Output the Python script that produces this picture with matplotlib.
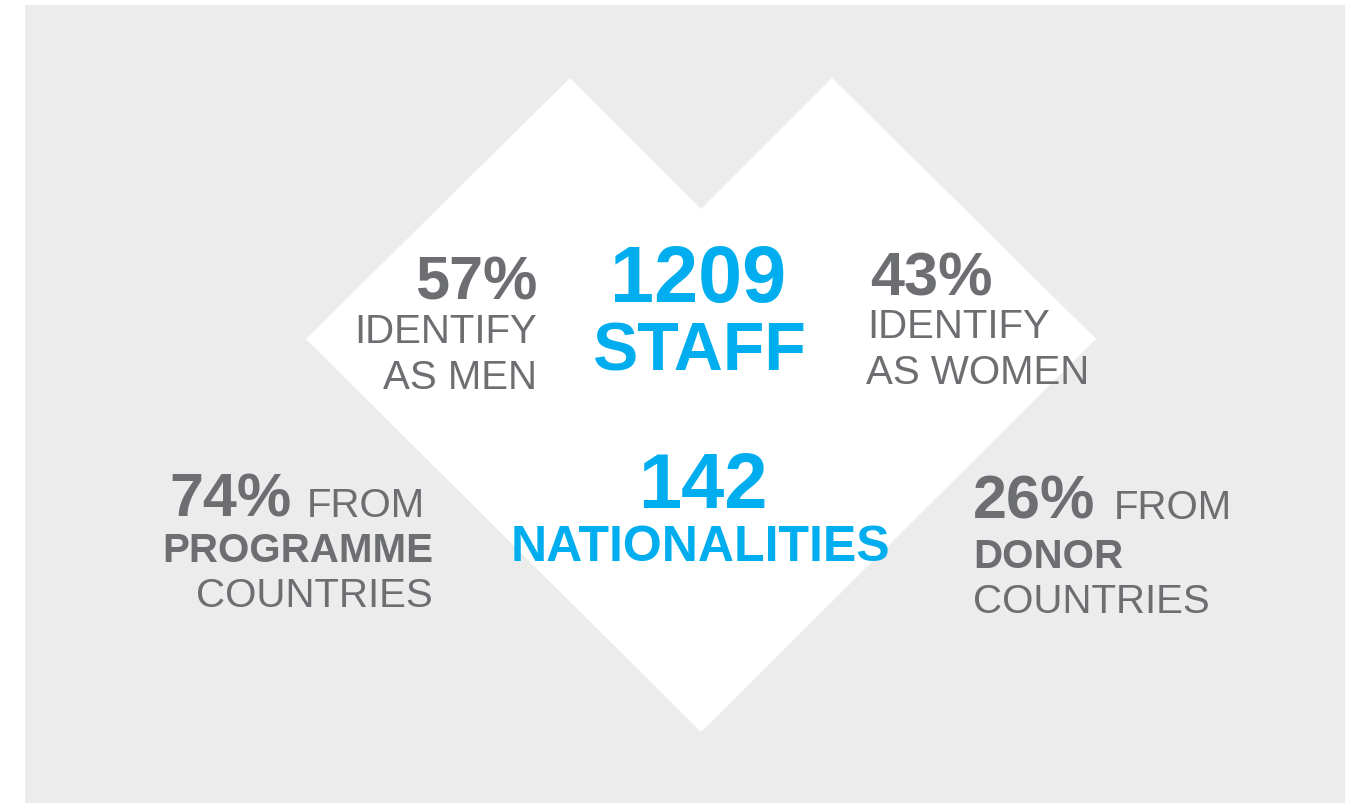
import matplotlib.pyplot as plt
from matplotlib.patches import Rectangle, Polygon

# 数据
staff_total = 1209
nationalities = 142
gender_labels = ['MEN', 'WOMEN']
gender_pct = [57, 43]
origin_labels = ['PROGRAMME', 'DONOR']
origin_pct = [74, 26]

GREY = '#6d6e71'
BLUE = '#00aeef'
BG = '#ececec'
SMALL = 29

plt.rcParams['font.family'] = ['Liberation Sans', 'DejaVu Sans']

W, H = 1362, 804
fig = plt.figure(figsize=(W / 100, H / 100), dpi=100)
ax = fig.add_axes([0, 0, 1, 1])
ax.set_xlim(0, W)
ax.set_ylim(H, 0)
ax.axis('off')

# 背景和心形
ax.add_patch(Rectangle((25, 6), 1320, 800, color=BG, lw=0))
heart = [(306, 340), (570, 79), (701, 210), (832, 79), (1096, 340), (701, 733)]
ax.add_patch(Polygon(heart, closed=True, color='white', lw=0))

# 中间的蓝色数字
ax.text(698, 302, f'{staff_total}', color=BLUE, fontsize=57, fontweight='bold',
        ha='center', va='baseline')
ax.text(699, 371, 'STAFF', color=BLUE, fontsize=49, fontweight='bold',
        ha='center', va='baseline')
ax.text(703, 508, f'{nationalities}', color=BLUE, fontsize=56, fontweight='bold',
        ha='center', va='baseline')
ax.text(700, 561, 'NATIONALITIES', color=BLUE, fontsize=36, fontweight='bold',
        ha='center', va='baseline')

# 性别
ax.text(537, 300, f'{gender_pct[0]}%', color=GREY, fontsize=44, fontweight='bold',
        ha='right', va='baseline')
ax.text(537, 343, 'IDENTIFY', color=GREY, fontsize=SMALL, ha='right', va='baseline')
ax.text(537, 389, f'AS {gender_labels[0]}', color=GREY, fontsize=SMALL,
        ha='right', va='baseline')

ax.text(870, 296, f'{gender_pct[1]}%', color=GREY, fontsize=44, fontweight='bold',
        ha='left', va='baseline')
ax.text(867, 338, 'IDENTIFY', color=GREY, fontsize=SMALL, ha='left', va='baseline')
ax.text(866, 384, f'AS {gender_labels[1]}', color=GREY, fontsize=SMALL,
        ha='left', va='baseline')

# 来源国家
ax.text(292, 517, f'{origin_pct[0]}%', color=GREY, fontsize=44, fontweight='bold',
        ha='right', va='baseline')
ax.text(425, 517, 'FROM', color=GREY, fontsize=SMALL, ha='right', va='baseline')
ax.text(433, 562, origin_labels[0], color=GREY, fontsize=SMALL, fontweight='bold',
        ha='right', va='baseline')
ax.text(433, 607, 'COUNTRIES', color=GREY, fontsize=SMALL, ha='right', va='baseline')

ax.text(973, 519, f'{origin_pct[1]}%', color=GREY, fontsize=44, fontweight='bold',
        ha='left', va='baseline')
ax.text(1114, 519, 'FROM', color=GREY, fontsize=SMALL, ha='left', va='baseline')
ax.text(973, 568, origin_labels[1], color=GREY, fontsize=SMALL, fontweight='bold',
        ha='left', va='baseline')
ax.text(973, 613, 'COUNTRIES', color=GREY, fontsize=SMALL, ha='left', va='baseline')

plt.savefig('out.png', dpi=100)
